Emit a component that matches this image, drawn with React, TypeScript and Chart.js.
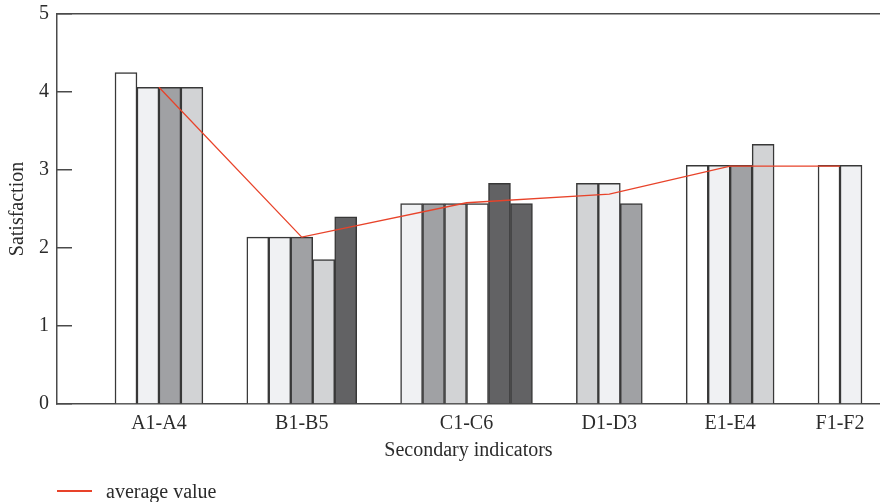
import React, { useEffect, useRef } from "react";
import { Chart, registerables } from "chart.js";

Chart.register(...registerables);

// ---------- data ----------
const GROUP_LABELS = ["A1-A4", "B1-B5", "C1-C6", "D1-D3", "E1-E4", "F1-F2"];
const GROUP_A = [4.25, 4.06, 4.06, 4.06];
const GROUP_B = [2.14, 2.14, 2.14, 1.85, 2.4];
const GROUP_C = [2.57, 2.57, 2.57, 2.57, 2.83, 2.57];
const GROUP_D = [2.83, 2.83, 2.57];
const GROUP_E = [3.06, 3.06, 3.06, 3.33];
const GROUP_F = [3.06, 3.06];
const AVERAGE_VALUES = [4.06, 2.14, 2.58, 2.69, 3.05, 3.05];
const Y_TICKS = [0, 1, 2, 3, 4, 5];
const LINE_LABEL = "average value";
const X_TITLE = "Secondary indicators";
const Y_TITLE = "Satisfaction";

// ---------- styles ----------
const SHADE: Record<string, string> = {
  W: "#ffffff",
  VL: "#f0f1f3",
  M: "#a0a1a4",
  L: "#d2d3d5",
  D: "#626264",
};
const GROUP_SHADES = [
  ["W", "VL", "M", "L"],
  ["W", "VL", "M", "L", "D"],
  ["VL", "M", "L", "W", "D", "D"],
  ["L", "VL", "M"],
  ["W", "VL", "M", "L"],
  ["W", "VL"],
];
const GAP_SLOTS = 2;
const LEFT_SLOTS = 2.64;
const RIGHT_SLOTS = 0.82;
const FONT_FAMILY = '"Liberation Serif", "Times New Roman", serif';
const TEXT_COLOR = "#2b2b2b";
const AXIS_COLOR = "#4a4a4a";
const LINE_COLOR = "#e8432a";
const BAR_BORDER = "#383838";

export default function App() {
  const canvasRef = useRef<HTMLCanvasElement | null>(null);

  useEffect(() => {
    const groups = [GROUP_A, GROUP_B, GROUP_C, GROUP_D, GROUP_E, GROUP_F];
    const barPoints: { x: number; y: number }[] = [];
    const barColors: string[] = [];
    const centers: number[] = [];
    let pos = 0;
    groups.forEach((g, gi) => {
      const start = pos;
      g.forEach((v, i) => {
        barPoints.push({ x: pos, y: v });
        barColors.push(SHADE[GROUP_SHADES[gi][i]]);
        pos += 1;
      });
      centers.push((start + pos - 1) / 2);
      pos += GAP_SLOTS;
    });
    const lastIndex = pos - GAP_SLOTS - 1;
    const xMin = -0.5 - LEFT_SLOTS;
    const xMax = lastIndex + 0.5 + RIGHT_SLOTS;
    const linePoints = AVERAGE_VALUES.map((v, i) => ({ x: centers[i], y: v }));

    const font = { family: FONT_FAMILY, size: 20 };
    const noPad = (s: any) => {
      s.paddingTop = 0;
      s.paddingBottom = 0;
      s.paddingLeft = 0;
      s.paddingRight = 0;
    };

    const chart = new Chart(canvasRef.current as HTMLCanvasElement, {
      type: "bar",
      data: {
        datasets: [
          {
            type: "line",
            label: LINE_LABEL,
            data: linePoints,
            borderColor: LINE_COLOR,
            backgroundColor: LINE_COLOR,
            borderWidth: 1.3,
            pointRadius: 0,
            tension: 0,
            order: 0,
            xAxisID: "x",
            yAxisID: "y",
          } as any,
          {
            type: "bar",
            label: "indicators",
            data: barPoints,
            backgroundColor: barColors,
            borderColor: BAR_BORDER,
            borderWidth: 1.5,
            barPercentage: 1,
            categoryPercentage: 1,
            order: 1,
            xAxisID: "x",
            yAxisID: "y",
          } as any,
        ],
      },
      options: {
        animation: false,
        responsive: true,
        maintainAspectRatio: false,
        layout: { padding: { top: 14, right: 0, bottom: 34, left: 0 } },
        plugins: {
          legend: { display: false },
          tooltip: { enabled: false },
        },
        scales: {
          x: {
            type: "linear",
            position: "bottom",
            min: xMin,
            max: xMax,
            offset: false,
            grid: { display: false, drawTicks: false },
            border: { display: true, color: AXIS_COLOR, width: 1.5 },
            afterBuildTicks: (s: any) => {
              s.ticks = centers.map((v) => ({ value: v }));
            },
            ticks: {
              autoSkip: false,
              maxRotation: 0,
              padding: 8,
              font,
              color: TEXT_COLOR,
              callback: (_v: any, i: number) => GROUP_LABELS[i],
            },
            title: {
              display: true,
              text: X_TITLE,
              font,
              color: TEXT_COLOR,
              padding: { top: 0, bottom: 5 },
            },
            afterFit: (s: any) => {
              s.height = 64;
              noPad(s);
            },
          },
          xTop: {
            type: "linear",
            position: "top",
            min: xMin,
            max: xMax,
            grid: { display: false, drawTicks: false },
            ticks: { display: false },
            border: { display: true, color: AXIS_COLOR, width: 1.5 },
            afterFit: (s: any) => {
              s.height = 0;
              noPad(s);
            },
          },
          y: {
            type: "linear",
            position: "left",
            min: 0,
            max: 5,
            afterBuildTicks: (s: any) => {
              s.ticks = Y_TICKS.map((v) => ({ value: v }));
            },
            ticks: { padding: 23, font, color: TEXT_COLOR },
            grid: {
              display: true,
              drawOnChartArea: false,
              drawTicks: true,
              tickLength: -15,
              color: AXIS_COLOR,
              lineWidth: 1.5,
            },
            border: { display: true, color: AXIS_COLOR, width: 1.5 },
            title: {
              display: true,
              text: Y_TITLE,
              font,
              color: TEXT_COLOR,
              padding: { top: 6, bottom: 0 },
            },
            afterFit: (s: any) => {
              s.width = 57;
              noPad(s);
            },
          },
        },
      } as any,
    });
    return () => chart.destroy();
  }, []);

  return (
    <div style={{ position: "fixed", left: 0, top: 0, width: 880, height: 502, background: "#fff" }}>
      <canvas ref={canvasRef} />
      <div
        style={{
          position: "absolute",
          left: 57,
          top: 479,
          height: 24,
          display: "flex",
          alignItems: "center",
          fontFamily: FONT_FAMILY,
          fontSize: 20,
          color: TEXT_COLOR,
          whiteSpace: "nowrap",
        }}
      >
        <span style={{ display: "inline-block", width: 35, height: 2, background: LINE_COLOR }} />
        <span style={{ marginLeft: 14 }}>{LINE_LABEL}</span>
      </div>
    </div>
  );
}
